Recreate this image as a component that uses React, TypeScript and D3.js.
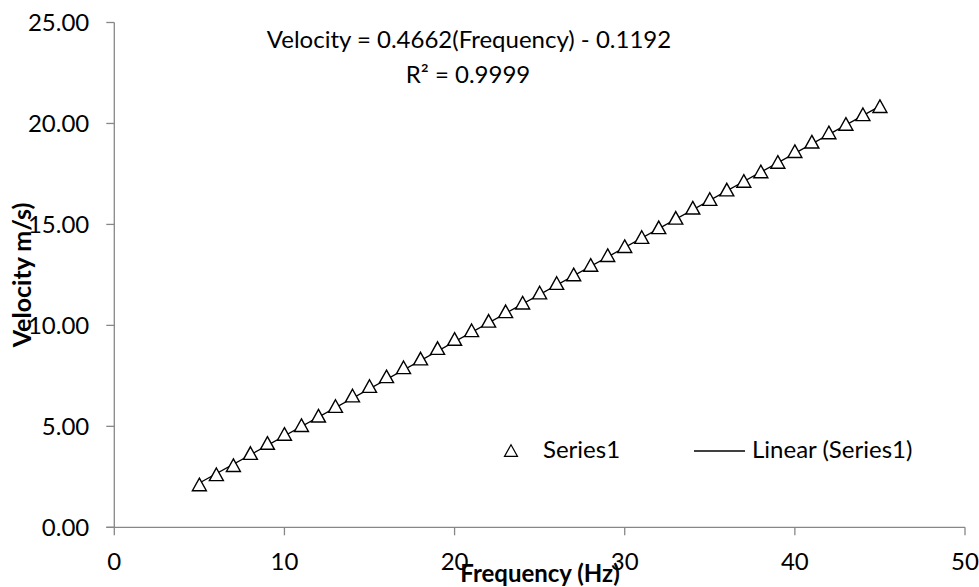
import React from "react";
import * as d3 from "d3";

const frequency = [5,6,7,8,9,10,11,12,13,14,15,16,17,18,19,20,21,22,23,24,25,26,27,28,29,30,31,32,33,34,35,36,37,38,39,40,41,42,43,44,45];
const velocity = [2.05,2.55,3.0,3.6,4.1,4.55,4.98,5.45,5.93,6.45,6.92,7.4,7.85,8.28,8.8,9.25,9.68,10.15,10.62,11.05,11.55,12.02,12.45,12.92,13.4,13.85,14.3,14.78,15.25,15.75,16.18,16.65,17.08,17.55,18.02,18.55,19.02,19.48,19.9,20.38,20.78];
const xTicks = [0,10,20,30,40,50];
const yTicks = [0,5,10,15,20,25];
const equationText = "Velocity = 0.4662(Frequency) - 0.1192";
const r2Text = "R² = 0.9999";
const xTitle = "Frequency (Hz)";
const yTitle = "Velocity m/s)";
const seriesName = "Series1";
const trendName = "Linear (Series1)";

const W = 979, H = 587;
const FONT = "Lato, 'Open Sans', sans-serif";
const AXIS = "#878787";
const FS = 24;

function tri(cx: number, cy: number, s: number) {
  const h = s * 0.9;
  return `M${cx},${cy - h * 0.62}L${cx + s / 2},${cy + h * 0.38}L${cx - s / 2},${cy + h * 0.38}Z`;
}

export default function App() {
  const x = d3.scaleLinear().domain([0, 50]).range([114.3, 965]);
  const y = d3.scaleLinear().domain([0, 25]).range([527.3, 22.5]);
  const data = frequency.map((f, i) => ({ f, v: velocity[i] }));
  const mx = d3.mean(frequency) as number;
  const my = d3.mean(velocity) as number;
  const sxy = d3.sum(data, (d) => (d.f - mx) * (d.v - my));
  const sxx = d3.sum(data, (d) => (d.f - mx) ** 2);
  const slope = sxy / sxx;
  const intercept = my - slope * mx;
  const ext = d3.extent(frequency) as [number, number];
  const trend = d3.line<number>().x((f) => x(f)).y((f) => y(slope * f + intercept));

  return (
    <svg width={W} height={H} style={{ position: "absolute", left: 0, top: 0, background: "#fff" }} fontFamily={FONT}>
      <rect width={W} height={H} fill="#fff" />
      <line x1={x(0)} x2={x(0)} y1={y(25)} y2={y(0)} stroke={AXIS} strokeWidth={1.3} />
      <line x1={x(0) - 8} x2={x(50)} y1={y(0)} y2={y(0)} stroke={AXIS} strokeWidth={1.3} />
      {yTicks.map((t) => (
        <g key={"y" + t}>
          <line x1={x(0) - 8} x2={x(0)} y1={y(t)} y2={y(t)} stroke={AXIS} strokeWidth={1.3} />
          <text x={x(0) - 25} y={y(t)} dy="0.36em" textAnchor="end" fontSize={FS} fill="#000">
            {t.toFixed(2)}
          </text>
        </g>
      ))}
      {xTicks.map((t) => (
        <g key={"x" + t}>
          <line x1={x(t)} x2={x(t)} y1={y(0)} y2={y(0) + 8} stroke={AXIS} strokeWidth={1.3} />
          <text x={x(t)} y={570} textAnchor="middle" fontSize={FS} fill="#000">
            {t}
          </text>
        </g>
      ))}
      <path d={trend([ext[0], ext[1]]) as string} stroke="#000" strokeWidth={1.3} fill="none" />
      {data.map((d, i) => (
        <path key={i} d={tri(x(d.f), y(d.v), 14)} fill="#fff" stroke="#000" strokeWidth={1.4} />
      ))}
      <text x={469} y={48} textAnchor="middle" fontSize={FS} fill="#000">{equationText}</text>
      <text x={468} y={83} textAnchor="middle" fontSize={FS} fill="#000">{r2Text}</text>
      <text x={540} y={582} textAnchor="middle" fontSize={FS} fontWeight="bold" fill="#000">{xTitle}</text>
      <text transform={`translate(31,275) rotate(-90)`} textAnchor="middle" fontSize={FS + 1} fontWeight="bold" fill="#000">{yTitle}</text>
      <path d={tri(511, 452, 13)} fill="#fff" stroke="#000" strokeWidth={1.2} />
      <text x={543} y={458} fontSize={FS} fill="#000">{seriesName}</text>
      <line x1={694} x2={745} y1={451} y2={451} stroke="#000" strokeWidth={1.3} />
      <text x={752} y={458} fontSize={FS} fill="#000">{trendName}</text>
    </svg>
  );
}
